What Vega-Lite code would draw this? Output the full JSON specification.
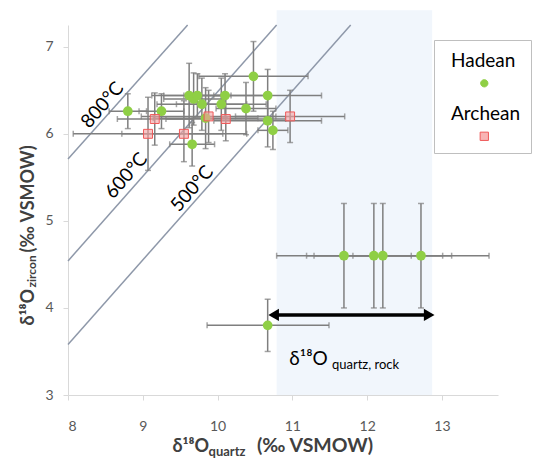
{
  "$schema": "https://vega.github.io/schema/vega-lite/v6.json",
  "width": 430,
  "height": 370,
  "autosize": {"type": "none"},
  "padding": {"left": 68, "top": 25, "right": 36, "bottom": 63},
  "background": "white",
  "config": {
    "view": {"stroke": null},
    "font": "Lato",
    "axis": {
      "grid": false,
      "domainColor": "#d9d9d9",
      "tickColor": "#d9d9d9",
      "labelColor": "#595959",
      "labelFontSize": 14,
      "labelFont": "Lato",
      "titleFont": "Lato",
      "titleFontWeight": "bold",
      "titleColor": "#404040"
    }
  },
  "datasets": {
    "band": [{"x1": 10.79, "x2": 12.87, "y1": 3, "y2": 7.42}],
    "iso": [
      {"t": "800°C", "x1": 8, "y1": 5.71, "x2": 9.60, "y2": 7.25},
      {"t": "600°C", "x1": 8, "y1": 4.54, "x2": 10.79, "y2": 7.25},
      {"t": "500°C", "x1": 8, "y1": 3.58, "x2": 11.78, "y2": 7.25}
    ],
    "isolabels": [
      {"label": "800°C", "x": 8.46, "y": 6.33},
      {"label": "600°C", "x": 8.78, "y": 5.52},
      {"label": "500°C", "x": 9.66, "y": 5.37}
    ],
    "pts": [
      {"period": "Hadean", "x": 8.80, "y": 6.26, "xlo": 8.55, "xhi": 9.05, "ylo": 6.06, "yhi": 6.46},
      {"period": "Hadean", "x": 9.25, "y": 6.26, "xlo": 8.95, "xhi": 9.55, "ylo": 6.06, "yhi": 6.46},
      {"period": "Hadean", "x": 9.62, "y": 6.44, "xlo": 9.12, "xhi": 10.12, "ylo": 6.07, "yhi": 6.81},
      {"period": "Hadean", "x": 9.68, "y": 6.40, "xlo": 9.28, "xhi": 10.08, "ylo": 6.10, "yhi": 6.70},
      {"period": "Hadean", "x": 9.73, "y": 6.44, "xlo": 9.28, "xhi": 10.18, "ylo": 6.19, "yhi": 6.69},
      {"period": "Hadean", "x": 9.79, "y": 6.34, "xlo": 9.19, "xhi": 10.39, "ylo": 6.04, "yhi": 6.64},
      {"period": "Hadean", "x": 9.84, "y": 6.18, "xlo": 9.14, "xhi": 10.54, "ylo": 5.83, "yhi": 6.53},
      {"period": "Hadean", "x": 9.66, "y": 5.88, "xlo": 9.36, "xhi": 9.96, "ylo": 5.63, "yhi": 6.13},
      {"period": "Hadean", "x": 10.05, "y": 6.34, "xlo": 9.45, "xhi": 10.65, "ylo": 6.04, "yhi": 6.64},
      {"period": "Hadean", "x": 10.10, "y": 6.44, "xlo": 9.55, "xhi": 10.65, "ylo": 6.19, "yhi": 6.69},
      {"period": "Hadean", "x": 10.38, "y": 6.29, "xlo": 9.98, "xhi": 10.78, "ylo": 5.99, "yhi": 6.59},
      {"period": "Hadean", "x": 10.48, "y": 6.66, "xlo": 9.75, "xhi": 11.21, "ylo": 6.26, "yhi": 7.06},
      {"period": "Hadean", "x": 10.67, "y": 6.44, "xlo": 9.95, "xhi": 11.39, "ylo": 6.14, "yhi": 6.74},
      {"period": "Hadean", "x": 10.67, "y": 6.15, "xlo": 9.95, "xhi": 11.39, "ylo": 5.85, "yhi": 6.45},
      {"period": "Hadean", "x": 10.74, "y": 6.04, "xlo": 10.54, "xhi": 10.94, "ylo": 5.82, "yhi": 6.26},
      {"period": "Hadean", "x": 11.69, "y": 4.60, "xlo": 10.79, "xhi": 12.59, "ylo": 4.00, "yhi": 5.20},
      {"period": "Hadean", "x": 12.09, "y": 4.60, "xlo": 11.19, "xhi": 13.01, "ylo": 4.00, "yhi": 5.20},
      {"period": "Hadean", "x": 12.21, "y": 4.60, "xlo": 11.29, "xhi": 13.13, "ylo": 4.00, "yhi": 5.20},
      {"period": "Hadean", "x": 12.72, "y": 4.60, "xlo": 11.81, "xhi": 13.63, "ylo": 4.00, "yhi": 5.20},
      {"period": "Hadean", "x": 10.67, "y": 3.80, "xlo": 9.86, "xhi": 11.49, "ylo": 3.50, "yhi": 4.10},
      {"period": "Archean", "x": 9.16, "y": 6.17, "xlo": 8.66, "xhi": 9.66, "ylo": 5.87, "yhi": 6.47},
      {"period": "Archean", "x": 9.07, "y": 6.00, "xlo": 8.07, "xhi": 10.07, "ylo": 5.58, "yhi": 6.42},
      {"period": "Archean", "x": 9.55, "y": 6.00, "xlo": 8.72, "xhi": 10.39, "ylo": 5.68, "yhi": 6.38},
      {"period": "Archean", "x": 9.88, "y": 6.20, "xlo": 8.98, "xhi": 10.78, "ylo": 5.90, "yhi": 6.50},
      {"period": "Archean", "x": 10.11, "y": 6.17, "xlo": 9.31, "xhi": 10.91, "ylo": 5.92, "yhi": 6.42},
      {"period": "Archean", "x": 10.97, "y": 6.20, "xlo": 10.24, "xhi": 11.70, "ylo": 5.90, "yhi": 6.50}
    ],
    "arrow": [{"x1": 10.75, "x2": 12.83, "y": 3.92}],
    "arrowlabel": [
      {"part": "main", "text": "δ¹⁸O", "x": 10.96, "y": 3.345},
      {"part": "sub", "text": "quartz, rock", "x": 11.53, "y": 3.304}
    ]
  },
  "layer": [
    {
      "data": {"name": "band"},
      "mark": {"type": "rect", "color": "#f1f6fc", "clip": false},
      "encoding": {
        "x": {"field": "x1", "type": "quantitative", "scale": {"domain": [8, 13.75], "nice": false, "zero": false},
          "axis": {"orient": "bottom", "values": [8, 9, 10, 11, 12, 13], "tickSize": 5, "labelPadding": 19, "title": "δ¹⁸O", "titleFontSize": 18, "titleX": 104, "titleY": 56.5, "titleAlign": "left", "titleBaseline": "alphabetic"}},
        "x2": {"field": "x2"},
        "y": {"field": "y1", "type": "quantitative", "scale": {"domain": [3, 7.25], "nice": false, "zero": false},
          "axis": {"orient": "left", "values": [3, 4, 5, 6, 7], "tickSize": 5, "labelPadding": 10, "title": "δ¹⁸O", "titleFontSize": 18, "titleX": -35, "titleY": 300, "titleAngle": 270, "titleAlign": "left", "titleBaseline": "alphabetic"}},
        "y2": {"field": "y2"}
      }
    },
    {
      "data": {"name": "iso"},
      "mark": {"type": "rule", "color": "#8e98a9", "strokeWidth": 1.5},
      "encoding": {
        "x": {"field": "x1", "type": "quantitative", "scale": {"domain": [8, 13.75], "nice": false, "zero": false},
          "axis": {"orient": "bottom", "labels": false, "ticks": false, "domain": false, "title": "quartz", "titleFontSize": 13, "titleX": 140, "titleY": 60, "titleAlign": "left", "titleBaseline": "alphabetic"}},
        "x2": {"field": "x2"},
        "y": {"field": "y1", "type": "quantitative", "scale": {"domain": [3, 7.25], "nice": false, "zero": false},
          "axis": {"orient": "left", "labels": false, "ticks": false, "domain": false, "title": "zircon", "titleFontSize": 12, "titleX": -33, "titleY": 262, "titleAngle": 270, "titleAlign": "left", "titleBaseline": "alphabetic"}},
        "y2": {"field": "y2"}
      }
    },
    {
      "data": {"name": "isolabels"},
      "mark": {"type": "text", "angle": -49, "fontSize": 19, "font": "Lato", "color": "#000000", "align": "center", "baseline": "middle"},
      "encoding": {
        "x": {"field": "x", "type": "quantitative", "scale": {"domain": [8, 13.75], "nice": false, "zero": false},
          "axis": {"orient": "bottom", "labels": false, "ticks": false, "domain": false, "title": "(‰ VSMOW)", "titleFontSize": 19.5, "titleX": 188.5, "titleY": 56.5, "titleAlign": "left", "titleBaseline": "alphabetic"}},
        "y": {"field": "y", "type": "quantitative", "scale": {"domain": [3, 7.25], "nice": false, "zero": false},
          "axis": {"orient": "left", "labels": false, "ticks": false, "domain": false, "title": "(‰ VSMOW)", "titleFontSize": 18, "titleX": -35, "titleY": 227, "titleAngle": 270, "titleAlign": "left", "titleBaseline": "alphabetic"}},
        "text": {"field": "label", "type": "nominal"}
      }
    },
    {
      "data": {"name": "pts"},
      "mark": {"type": "errorbar", "color": "#7f7f7f", "thickness": 1.5, "ticks": {"size": 6, "thickness": 1.5, "color": "#7f7f7f"}},
      "encoding": {
        "x": {"field": "x", "type": "quantitative", "scale": {"domain": [8, 13.75], "nice": false, "zero": false}, "axis": null},
        "y": {"field": "ylo", "type": "quantitative", "scale": {"domain": [3, 7.25], "nice": false, "zero": false}, "axis": null},
        "y2": {"field": "yhi"}
      }
    },
    {
      "data": {"name": "pts"},
      "mark": {"type": "errorbar", "color": "#7f7f7f", "thickness": 1.5, "ticks": {"size": 6, "thickness": 1.5, "color": "#7f7f7f"}},
      "encoding": {
        "y": {"field": "y", "type": "quantitative", "scale": {"domain": [3, 7.25], "nice": false, "zero": false}, "axis": null},
        "x": {"field": "xlo", "type": "quantitative", "scale": {"domain": [8, 13.75], "nice": false, "zero": false}, "axis": null},
        "x2": {"field": "xhi"}
      }
    },
    {
      "data": {"name": "pts"},
      "transform": [{"filter": "datum.period === 'Hadean'"}],
      "mark": {"type": "point", "shape": "circle", "filled": true, "size": 95, "color": "#8fcf45", "opacity": 1},
      "encoding": {
        "x": {"field": "x", "type": "quantitative", "scale": {"domain": [8, 13.75], "nice": false, "zero": false}, "axis": null},
        "y": {"field": "y", "type": "quantitative", "scale": {"domain": [3, 7.25], "nice": false, "zero": false}, "axis": null}
      }
    },
    {
      "data": {"name": "pts"},
      "transform": [{"filter": "datum.period === 'Archean'"}],
      "mark": {"type": "point", "shape": "square", "filled": true, "size": 80, "fill": "#f5a0a0", "fillOpacity": 0.6, "stroke": "#ef5a5a", "strokeWidth": 1, "strokeOpacity": 1, "opacity": 1},
      "encoding": {
        "x": {"field": "x", "type": "quantitative", "scale": {"domain": [8, 13.75], "nice": false, "zero": false}, "axis": null},
        "y": {"field": "y", "type": "quantitative", "scale": {"domain": [3, 7.25], "nice": false, "zero": false}, "axis": null}
      }
    },
    {
      "data": {"name": "pts"},
      "transform": [{"filter": "false"}],
      "mark": {"type": "point", "filled": true, "strokeWidth": 1, "opacity": 1},
      "encoding": {
        "x": {"field": "x", "type": "quantitative", "scale": {"domain": [8, 13.75], "nice": false, "zero": false}, "axis": null},
        "y": {"field": "y", "type": "quantitative", "scale": {"domain": [3, 7.25], "nice": false, "zero": false}, "axis": null},
        "fill": {"field": "period", "type": "nominal",
          "scale": {"domain": ["Hadean", "Archean"], "range": ["#8fcf45", "#f8b4b4"]},
          "legend": {"title": null, "orient": "none", "legendX": 366, "legendY": 15, "padding": 10, "strokeColor": "#bfbfbf", "fillColor": "white", "symbolSize": 1600, "symbolStrokeWidth": 1, "labelFont": "Lato", "labelFontSize": 19, "labelColor": "#000000", "labelAlign": "left", "labelBaseline": "bottom", "symbolOffset": 0, "labelOffset": -34, "rowPadding": 14, "labelLimit": 300}},
        "stroke": {"field": "period", "type": "nominal", "scale": {"domain": ["Hadean", "Archean"], "range": ["#8fcf45", "#ef5a5a"]}},
        "shape": {"field": "period", "type": "nominal", "scale": {"domain": ["Hadean", "Archean"], "range": [
          "M 0.8075 0.64 A 0.1825 0.1825 0 1 0 1.1725 0.64 A 0.1825 0.1825 0 1 0 0.8075 0.64 Z",
          "M 0.7825 0.4325 L 1.1975 0.4325 L 1.1975 0.8475 L 0.7825 0.8475 Z"]}}
      }
    },
    {
      "data": {"name": "arrow"},
      "mark": {"type": "rule", "color": "#000000", "strokeWidth": 3.5},
      "encoding": {
        "x": {"field": "x1", "type": "quantitative", "scale": {"domain": [8, 13.75], "nice": false, "zero": false}, "axis": null},
        "x2": {"field": "x2"},
        "y": {"field": "y", "type": "quantitative", "scale": {"domain": [3, 7.25], "nice": false, "zero": false}, "axis": null}
      }
    },
    {
      "data": {"name": "arrow"},
      "mark": {"type": "point", "shape": "triangle-left", "filled": true, "color": "#000000", "size": 150, "opacity": 1},
      "encoding": {
        "x": {"field": "x1", "type": "quantitative", "scale": {"domain": [8, 13.75], "nice": false, "zero": false}, "axis": null},
        "y": {"field": "y", "type": "quantitative", "scale": {"domain": [3, 7.25], "nice": false, "zero": false}, "axis": null}
      }
    },
    {
      "data": {"name": "arrow"},
      "mark": {"type": "point", "shape": "triangle-right", "filled": true, "color": "#000000", "size": 150, "opacity": 1},
      "encoding": {
        "x": {"field": "x2", "type": "quantitative", "scale": {"domain": [8, 13.75], "nice": false, "zero": false}, "axis": null},
        "y": {"field": "y", "type": "quantitative", "scale": {"domain": [3, 7.25], "nice": false, "zero": false}, "axis": null}
      }
    },
    {
      "data": {"name": "arrowlabel"},
      "transform": [{"filter": "datum.part === 'main'"}],
      "mark": {"type": "text", "fontSize": 19, "font": "Lato", "color": "#000000", "align": "left", "baseline": "alphabetic"},
      "encoding": {
        "x": {"field": "x", "type": "quantitative", "scale": {"domain": [8, 13.75], "nice": false, "zero": false}, "axis": null},
        "y": {"field": "y", "type": "quantitative", "scale": {"domain": [3, 7.25], "nice": false, "zero": false}, "axis": null},
        "text": {"field": "text", "type": "nominal"}
      }
    },
    {
      "data": {"name": "arrowlabel"},
      "transform": [{"filter": "datum.part === 'sub'"}],
      "mark": {"type": "text", "fontSize": 13, "font": "Lato", "color": "#000000", "align": "left", "baseline": "alphabetic"},
      "encoding": {
        "x": {"field": "x", "type": "quantitative", "scale": {"domain": [8, 13.75], "nice": false, "zero": false}, "axis": null},
        "y": {"field": "y", "type": "quantitative", "scale": {"domain": [3, 7.25], "nice": false, "zero": false}, "axis": null},
        "text": {"field": "text", "type": "nominal"}
      }
    }
  ],
  "resolve": {"axis": {"x": "independent", "y": "independent"}}
}
